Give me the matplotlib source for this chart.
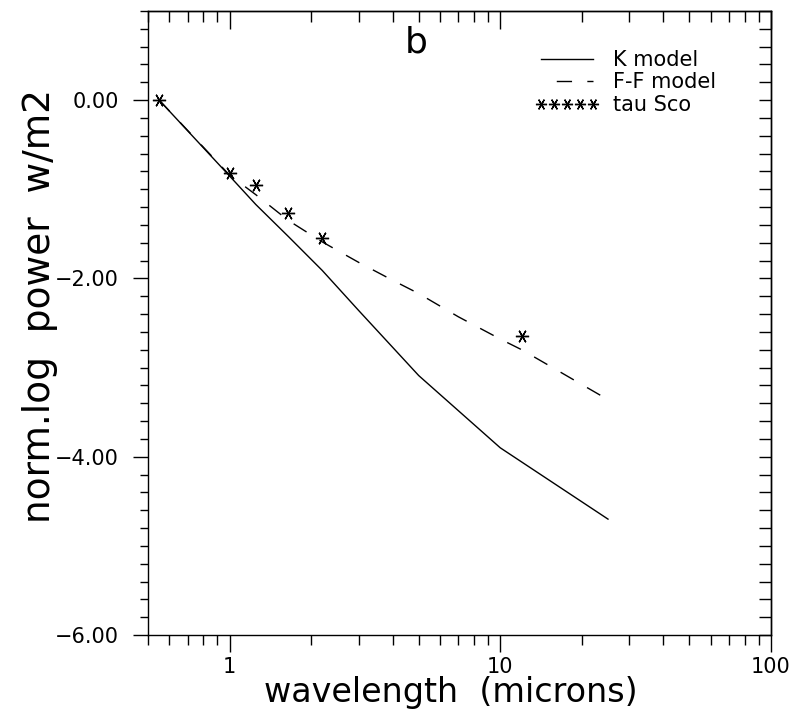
import matplotlib
matplotlib.use('Agg')
import matplotlib.pyplot as plt
from matplotlib.ticker import FixedLocator, FixedFormatter, MultipleLocator, NullFormatter, LogLocator
from matplotlib.lines import Line2D

# ---- data ----
k_wl = [0.55, 1.0, 1.25, 1.65, 2.2, 3.0, 5.0, 10.0, 25.0]
k_pow = [0.0, -0.85, -1.17, -1.53, -1.91, -2.36, -3.09, -3.90, -4.70]

ff_wl = [0.55, 1.0, 1.25, 1.65, 2.2, 3.0, 4.0, 5.0, 7.0, 10.0, 12.0, 15.0, 20.0, 25.0]
ff_pow = [0.0, -0.84, -1.06, -1.35, -1.59, -1.82, -2.02, -2.17, -2.43, -2.68, -2.80, -2.97, -3.19, -3.36]

obs_wl = [0.55, 1.0, 1.25, 1.65, 2.2, 12.0]
obs_pow = [0.0, -0.82, -0.955, -1.27, -1.55, -2.65]

y_ticks = [0.0, -2.0, -4.0, -6.0]
y_tick_labels = ["0.00", "\u22122.00", "\u22124.00", "\u22126.00"]
x_ticks = [1, 10, 100]
x_tick_labels = ["1", "10", "100"]

series_labels = ["K model", "F-F model", "tau Sco"]

plt.rcParams['font.family'] = ['DejaVu Sans']

fig = plt.figure(figsize=(7.96, 7.15), dpi=100)
ax = fig.add_axes([148/796, 1-635/715, (771-148)/796, (635-11)/715])

star = (6, 2, 90)
ax.plot(k_wl, k_pow, color='black', lw=1.0, solid_joinstyle='round')
ax.plot(ff_wl, ff_pow, color='black', lw=1.0, linestyle=(0, (11, 11)))
ax.plot(obs_wl, obs_pow, linestyle='none', marker=star, ms=9.5, mew=1.0, color='black')

ax.set_xscale('log')
ax.set_xlim(0.5, 100)
ax.set_ylim(-6, 1)

for s in ax.spines.values():
    s.set_linewidth(1.0)

# left/bottom ticks (outward)
ax.yaxis.set_major_locator(FixedLocator(y_ticks))
ax.yaxis.set_major_formatter(FixedFormatter(y_tick_labels))
ax.yaxis.set_minor_locator(MultipleLocator(0.2))
ax.xaxis.set_major_locator(FixedLocator(x_ticks))
ax.xaxis.set_major_formatter(FixedFormatter(x_tick_labels))
ax.xaxis.set_minor_locator(LogLocator(base=10, subs=[2, 3, 4, 5, 6, 7, 8, 9]))
ax.xaxis.set_minor_formatter(NullFormatter())
ax.tick_params(axis='both', which='both', direction='out', top=False, right=False,
               width=1.0, labelsize=15)
ax.tick_params(axis='y', which='major', length=11, pad=10)
ax.tick_params(axis='y', which='minor', length=6)
ax.tick_params(axis='x', which='major', length=12, pad=4)
ax.tick_params(axis='x', which='minor', length=7)

# top/right ticks (inward)
secx = ax.secondary_xaxis('top')
secx.xaxis.set_major_locator(FixedLocator(x_ticks))
secx.xaxis.set_minor_locator(LogLocator(base=10, subs=[2, 3, 4, 5, 6, 7, 8, 9]))
secx.tick_params(axis='x', which='both', direction='in', labeltop=False, width=1.0)
secx.tick_params(axis='x', which='major', length=13)
secx.tick_params(axis='x', which='minor', length=8)
secx.spines['top'].set_linewidth(1.0)

secy = ax.secondary_yaxis('right')
secy.yaxis.set_major_locator(FixedLocator(y_ticks))
secy.yaxis.set_minor_locator(MultipleLocator(0.2))
secy.tick_params(axis='y', which='both', direction='in', labelright=False, width=1.0, length=9)
secy.spines['right'].set_linewidth(1.0)

ax.set_xlabel("wavelength  (microns)", fontsize=24)
ax.xaxis.set_label_coords(0.486, -0.066)
ax.set_ylabel("norm.log  power  w/m2", fontsize=27)
ax.yaxis.set_label_coords(-0.1445, 0.527)

ax.text(0.430, 0.9327, "b", transform=ax.transAxes, fontsize=26,
        ha='center', va='baseline')

handles = [
    Line2D([], [], color='black', lw=1.0),
    Line2D([], [], color='black', lw=1.0, linestyle=(11, (11, 11))),
    Line2D([], [], color='black', linestyle='none', marker=star, ms=8, mew=1.0),
]
leg = ax.legend(handles, series_labels, loc='upper left',
                bbox_to_anchor=((535-148)/623, (635-50)/624),
                frameon=False, fontsize=15, handlelength=3.1, handletextpad=0.65,
                labelspacing=0.12, borderpad=0, borderaxespad=0, numpoints=5)

fig.savefig('out.png', dpi=100)
